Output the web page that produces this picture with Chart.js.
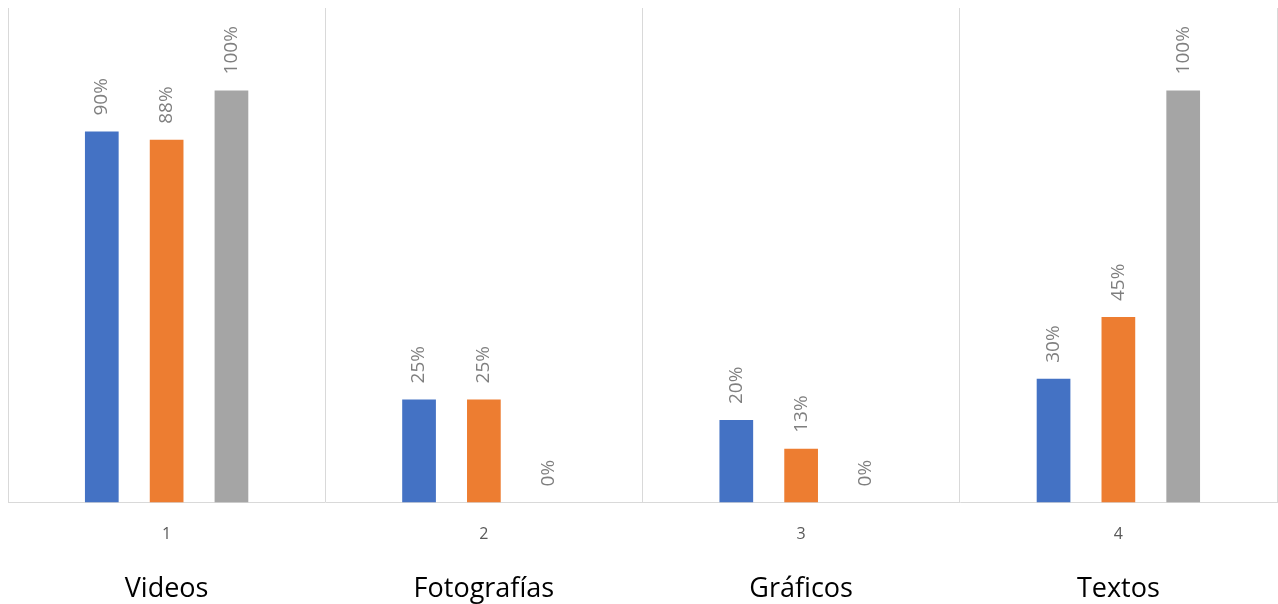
<!DOCTYPE html>
<html>
<head>
<meta charset="utf-8">
<script src="https://cdn.jsdelivr.net/npm/chart.js@4/dist/chart.umd.min.js"></script>
<style>
  html, body { margin: 0; padding: 0; background: #fff; overflow: hidden; }
  #wrap { width: 1278px; height: 614px; }
</style>
</head>
<body>
<div id="wrap"><canvas id="bars"></canvas></div>
<script>
const numbers = ['1', '2', '3', '4'];
const categories = ['Videos', 'Fotografías', 'Gráficos', 'Textos'];
const serie1 = [90, 25, 20, 30];
const serie2 = [88, 25, 13, 45];
const serie3 = [100, 0, 0, 100];

// rotated percentage above each bar
const valueLabels = {
  id: 'valueLabels',
  afterDatasetsDraw(chart) {
    const ctx = chart.ctx;
    ctx.save();
    ctx.font = '19px "Open Sans"';
    ctx.fillStyle = '#7f7f7f';
    ctx.textAlign = 'left';
    ctx.textBaseline = 'middle';
    chart.data.datasets.forEach((ds, i) => {
      chart.getDatasetMeta(i).data.forEach((bar, j) => {
        ctx.save();
        ctx.translate(bar.x, bar.y - 16);
        ctx.rotate(-Math.PI / 2);
        ctx.fillText(ds.data[j] + '%', 0, 0);
        ctx.restore();
      });
    });
    ctx.restore();
  }
};

const barConfig = {
  type: 'bar',
  data: {
    labels: numbers,
    datasets: [
      { label: 'Serie 1', backgroundColor: '#4472c4', data: serie1 },
      { label: 'Serie 2', backgroundColor: '#ed7d31', data: serie2 },
      { label: 'Serie 3', backgroundColor: '#a5a5a5', data: serie3 },
    ],
  },
  options: {
    responsive: true,
    maintainAspectRatio: false,
    animation: false,
    categoryPercentage: 0.613,
    barPercentage: 0.52,
    layout: { padding: { left: 8, top: 8, right: 1, bottom: 0 } },
    plugins: {
      legend: { display: false },
      tooltip: { enabled: false },
    },
    scales: {
      y: { display: false, min: 0, max: 120 },
      x: {
        grid: { color: '#d9d9d9', drawTicks: false },
        border: { color: '#d9d9d9' },
        ticks: { padding: 22, color: '#595959', font: { family: 'Open Sans', size: 16 } },
      },
      x2: {
        type: 'category',
        labels: categories,
        position: 'bottom',
        grid: { display: false, drawTicks: false },
        border: { display: false },
        ticks: { padding: 8, color: '#000', font: { family: 'Open Sans', size: 27 } },
      },
    },
  },
  plugins: [valueLabels],
};

const barsCtx = document.getElementById('bars');
window.myBar = new Chart(barsCtx, barConfig);
</script>
</body>
</html>
